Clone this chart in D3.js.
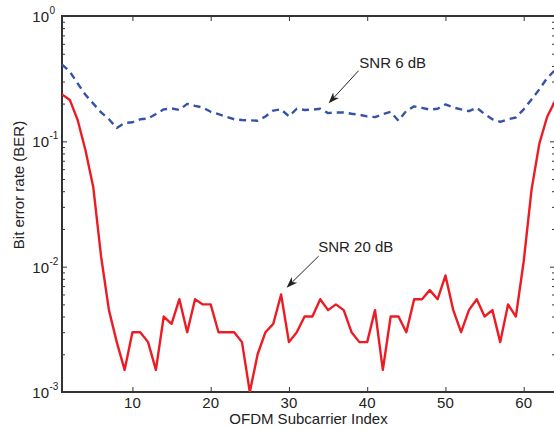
<!DOCTYPE html>
<html>
<head>
<meta charset="utf-8">
<script src="https://cdn.jsdelivr.net/npm/d3@7"></script>
<style>
body { margin: 0; background: #fff; }
text { font-family: "Liberation Sans", Arial, sans-serif; fill: #222; }
</style>
</head>
<body>
<div id="chart"></div>
<script>
var WIDTH = 554;
var HEIGHT = 430;

// Data
var subcarriers = d3.range(1, 65);

var berSnr6 = [0.41, 0.36, 0.29, 0.235, 0.2, 0.17, 0.15, 0.128, 0.14, 0.142,
    0.15, 0.152, 0.165, 0.18, 0.183, 0.178, 0.199, 0.192, 0.186, 0.172,
    0.165, 0.157, 0.15, 0.148, 0.147, 0.146, 0.158, 0.176, 0.18, 0.158,
    0.182, 0.178, 0.179, 0.182, 0.168, 0.17, 0.17, 0.166, 0.163, 0.158,
    0.156, 0.165, 0.172, 0.146, 0.175, 0.19, 0.185, 0.179, 0.182, 0.197,
    0.186, 0.18, 0.174, 0.185, 0.165, 0.15, 0.143, 0.15, 0.155, 0.18,
    0.216, 0.26, 0.32, 0.37];

var berSnr20 = [0.237, 0.214, 0.148, 0.085, 0.043, 0.012, 0.0045, 0.0025, 0.0015, 0.003,
    0.003, 0.0025, 0.0015, 0.004, 0.0035, 0.0055, 0.003, 0.0055, 0.005, 0.005,
    0.003, 0.003, 0.003, 0.0025, 0.001, 0.002, 0.003, 0.0035, 0.006, 0.0025,
    0.003, 0.004, 0.004, 0.0055, 0.0045, 0.005, 0.0045, 0.003, 0.0025, 0.0025,
    0.0045, 0.0015, 0.004, 0.004, 0.003, 0.0055, 0.0055, 0.0065, 0.0055, 0.0085,
    0.0045, 0.003, 0.0045, 0.0055, 0.004, 0.0045, 0.0025, 0.005, 0.004, 0.011,
    0.041, 0.096, 0.157, 0.21];

var xTicks = [10, 20, 30, 40, 50, 60];
var yTicks = [1e-3, 1e-2, 1e-1, 1];
var yTickExps = ["-3", "-2", "-1", "0"];

// annotations: [label, textX, textY, tailX, tailY, tipX, tipY] in data units
var notes = [
    ["SNR 6 dB", 39.0, 0.385, 38.9, 0.366, 35.07, 0.201],
    ["SNR 20 dB", 33.75, 0.0131, 33.8, 0.01215, 29.7, 0.0068]
];

var margin = {left: 62, top: 16, right: 555, bottom: 392};

var svg = d3.select("#chart").append("svg")
    .attr("width", WIDTH)
    .attr("height", HEIGHT);

var x = d3.scaleLinear().domain([1, 64]).range([margin.left, margin.right]);
var y = d3.scaleLog().domain([1e-3, 1]).range([margin.bottom, margin.top]);

// minor log ticks
var minorTicks = [];
[1e-3, 1e-2, 1e-1].forEach(function(d) {
    for (var k = 2; k <= 9; k++) minorTicks.push(d * k);
});

var axisColor = "#333";

function styleAxis(g) {
    g.select(".domain").remove();
    g.selectAll("line").attr("stroke", axisColor).attr("stroke-width", 1);
    g.selectAll("text").remove();
}

// x axes (bottom + top), ticks inward
svg.append("g")
    .attr("transform", "translate(0," + margin.bottom + ")")
    .call(d3.axisBottom(x).tickValues(xTicks).tickSize(-5))
    .call(styleAxis);
svg.append("g")
    .attr("transform", "translate(0," + margin.top + ")")
    .call(d3.axisTop(x).tickValues(xTicks).tickSize(-5))
    .call(styleAxis);

// y axes (left + right), major and minor ticks inward
svg.append("g")
    .attr("transform", "translate(" + margin.left + ",0)")
    .call(d3.axisLeft(y).tickValues(yTicks).tickSize(-5))
    .call(styleAxis);
svg.append("g")
    .attr("transform", "translate(" + margin.left + ",0)")
    .call(d3.axisLeft(y).tickValues(minorTicks).tickSize(-3))
    .call(styleAxis);
svg.append("g")
    .attr("transform", "translate(" + margin.right + ",0)")
    .call(d3.axisRight(y).tickValues(yTicks).tickSize(-5))
    .call(styleAxis);
svg.append("g")
    .attr("transform", "translate(" + margin.right + ",0)")
    .call(d3.axisRight(y).tickValues(minorTicks).tickSize(-3))
    .call(styleAxis);

// frame
svg.append("rect")
    .attr("x", margin.left)
    .attr("y", margin.top)
    .attr("width", margin.right - margin.left)
    .attr("height", margin.bottom - margin.top)
    .attr("fill", "none")
    .attr("stroke", axisColor)
    .attr("stroke-width", 2);

// x tick labels
svg.append("g").selectAll("text")
    .data(xTicks)
    .enter().append("text")
    .attr("x", function(d) { return x(d); })
    .attr("y", margin.bottom + 16)
    .attr("text-anchor", "middle")
    .attr("font-size", 15)
    .text(function(d) { return d; });

// y tick labels 10^k
var yLab = svg.append("g").selectAll("text")
    .data(yTicks)
    .enter().append("text")
    .attr("x", margin.left - 13)
    .attr("y", function(d) { return y(d) + 6; })
    .attr("text-anchor", "end")
    .attr("font-size", 15)
    .text("10");
svg.append("g").selectAll("text")
    .data(yTicks)
    .enter().append("text")
    .attr("x", margin.left - 12.5)
    .attr("y", function(d) { return y(d) - 2; })
    .attr("font-size", 10)
    .text(function(d, i) { return yTickExps[i]; });

// axis titles
svg.append("text")
    .attr("x", (margin.left + margin.right) / 2)
    .attr("y", 424)
    .attr("text-anchor", "middle")
    .attr("font-size", 15)
    .text("OFDM Subcarrier Index");

svg.append("text")
    .attr("transform", "translate(24,185) rotate(-90)")
    .attr("text-anchor", "middle")
    .attr("font-size", 15)
    .text("Bit error rate (BER)");

// series
var clipId = "plotclip";
svg.append("clipPath").attr("id", clipId)
    .append("rect")
    .attr("x", margin.left).attr("y", margin.top)
    .attr("width", margin.right - margin.left)
    .attr("height", margin.bottom - margin.top);

function plotLine(values, color, dash) {
    var line = d3.line()
        .x(function(d, i) { return x(subcarriers[i]); })
        .y(function(d) { return y(d); });
    svg.append("path")
        .datum(values)
        .attr("clip-path", "url(#" + clipId + ")")
        .attr("fill", "none")
        .attr("stroke", color)
        .attr("stroke-width", 2.4)
        .attr("stroke-linejoin", "round")
        .attr("stroke-dasharray", dash)
        .attr("d", line);
}

plotLine(berSnr6, "#3552a8", "7,5");
plotLine(berSnr20, "#ec1c24", null);

// annotations with arrows
notes.forEach(function(n) {
    svg.append("text")
        .attr("x", x(n[1]))
        .attr("y", y(n[2]))
        .attr("font-size", 15)
        .text(n[0]);

    var x1 = x(n[3]), y1 = y(n[4]), x2 = x(n[5]), y2 = y(n[6]);
    var dx = x2 - x1, dy = y2 - y1, len = Math.sqrt(dx * dx + dy * dy);
    var ux = dx / len, uy = dy / len, px = -uy, py = ux;
    var L = 11, w = 4, notch = 3;
    svg.append("line")
        .attr("x1", x1).attr("y1", y1)
        .attr("x2", x2 - ux * (L - notch)).attr("y2", y2 - uy * (L - notch))
        .attr("stroke", "#222")
        .attr("stroke-width", 1);
    var pts = [
        [x2, y2],
        [x2 - ux * L + px * w, y2 - uy * L + py * w],
        [x2 - ux * (L - notch), y2 - uy * (L - notch)],
        [x2 - ux * L - px * w, y2 - uy * L - py * w]
    ];
    svg.append("path")
        .attr("d", "M" + pts.join("L") + "Z")
        .attr("fill", "#222");
});
</script>
</body>
</html>
